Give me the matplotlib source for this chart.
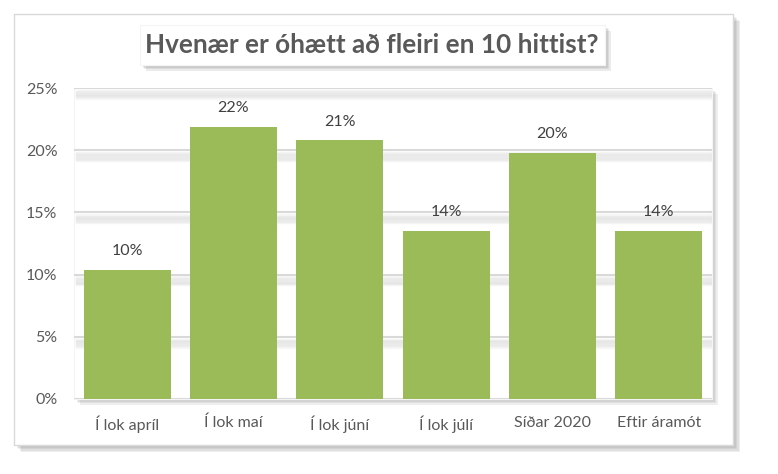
"""Bar chart: Hvenær er óhætt að fleiri en 10 hittist?"""

import matplotlib

matplotlib.use("Agg")
import matplotlib.patheffects as pe
import matplotlib.pyplot as plt
from matplotlib.patches import Rectangle

categories = ["Í lok apríl", "Í lok maí", "Í lok júní", "Í lok júlí", "Síðar 2020", "Eftir áramót"]
values = [10.4, 21.9, 20.8, 13.5, 19.8, 13.5]
value_labels = ["10%", "22%", "21%", "14%", "20%", "14%"]
y_ticks = [0, 5, 10, 15, 20, 25]
y_tick_labels = ["0%", "5%", "10%", "15%", "20%", "25%"]
title = "Hvenær er óhætt að fleiri en 10 hittist?"

W, H = 778, 474
BAR_COLOR = "#9BBB59"
TEXT_COLOR = "#595959"
GRID_COLOR = "#D9D9D9"

plt.rcParams["font.family"] = ["Lato", "DejaVu Sans"]

fig = plt.figure(figsize=(W / 100, H / 100), dpi=100)
fig.patch.set_facecolor("white")


def px_rect(x0, y0, x1, y1, **kw):
    """Rectangle given in pixel coords (top-left origin)."""
    return Rectangle((x0 / W, 1 - y1 / H), (x1 - x0) / W, (y1 - y0) / H, transform=fig.transFigure, **kw)


def soft_shadow(steps=4, alpha=0.13):
    """Stacked offset shadows to fake a blurred drop shadow."""
    fx = [pe.SimplePatchShadow(offset=(i, -i), shadow_rgbFace="#606060", alpha=alpha) for i in range(1, steps + 1)]
    return fx + [pe.Normal()]


# outer chart frame
fig.patches.append(px_rect(14, 14, 733, 445, facecolor="white", edgecolor=GRID_COLOR, lw=1.0,
                           path_effects=soft_shadow(5, 0.1), zorder=0))

# plot area background with shadow
left, top, right, bottom = 74, 88, 712, 399
fig.patches.append(px_rect(left, top, right, bottom, facecolor="white", edgecolor="#F4F4F4", lw=0.8,
                           path_effects=soft_shadow(4, 0.1), zorder=1))

# title box
fig.patches.append(px_rect(140, 25, 605, 65, facecolor="white", edgecolor="#F4F4F4", lw=0.8,
                           path_effects=soft_shadow(4, 0.12), zorder=1))
fig.text(372 / W, 1 - 45 / H, title, ha="center", va="center", fontsize=18.8, fontweight="bold",
         color=TEXT_COLOR, zorder=3)

ax = fig.add_axes([left / W, 1 - bottom / H, (right - left) / W, (bottom - top) / H])
ax.set_facecolor("none")
ax.set_zorder(2)

x = list(range(len(categories)))
ax.bar(x, values, width=0.82, color=BAR_COLOR, zorder=3)
for xi, v, lab in zip(x, values, value_labels):
    ax.text(xi, v + 1.5, lab, ha="center", va="center", fontsize=11.5, color="#404040")

grid_fx = [pe.SimpleLineShadow(offset=(2, -o), shadow_color="#808080", alpha=0.07, linewidth=2.5)
           for o in range(2, 8)] + [pe.Normal()]
for t in y_ticks:
    ax.axhline(t, color=GRID_COLOR, lw=1.5, zorder=1, path_effects=grid_fx)

ax.set_xlim(-0.5, len(categories) - 0.5)
ax.set_ylim(0, 25)
ax.set_yticks(y_ticks)
ax.set_yticklabels(y_tick_labels)
ax.set_xticks(x)
ax.set_xticklabels(categories)
ax.tick_params(axis="both", length=0, labelsize=11.5, labelcolor=TEXT_COLOR)
ax.tick_params(axis="y", pad=12)
ax.tick_params(axis="x", pad=12)
for s in ax.spines.values():
    s.set_visible(False)

fig.savefig("out.png", dpi=100)
